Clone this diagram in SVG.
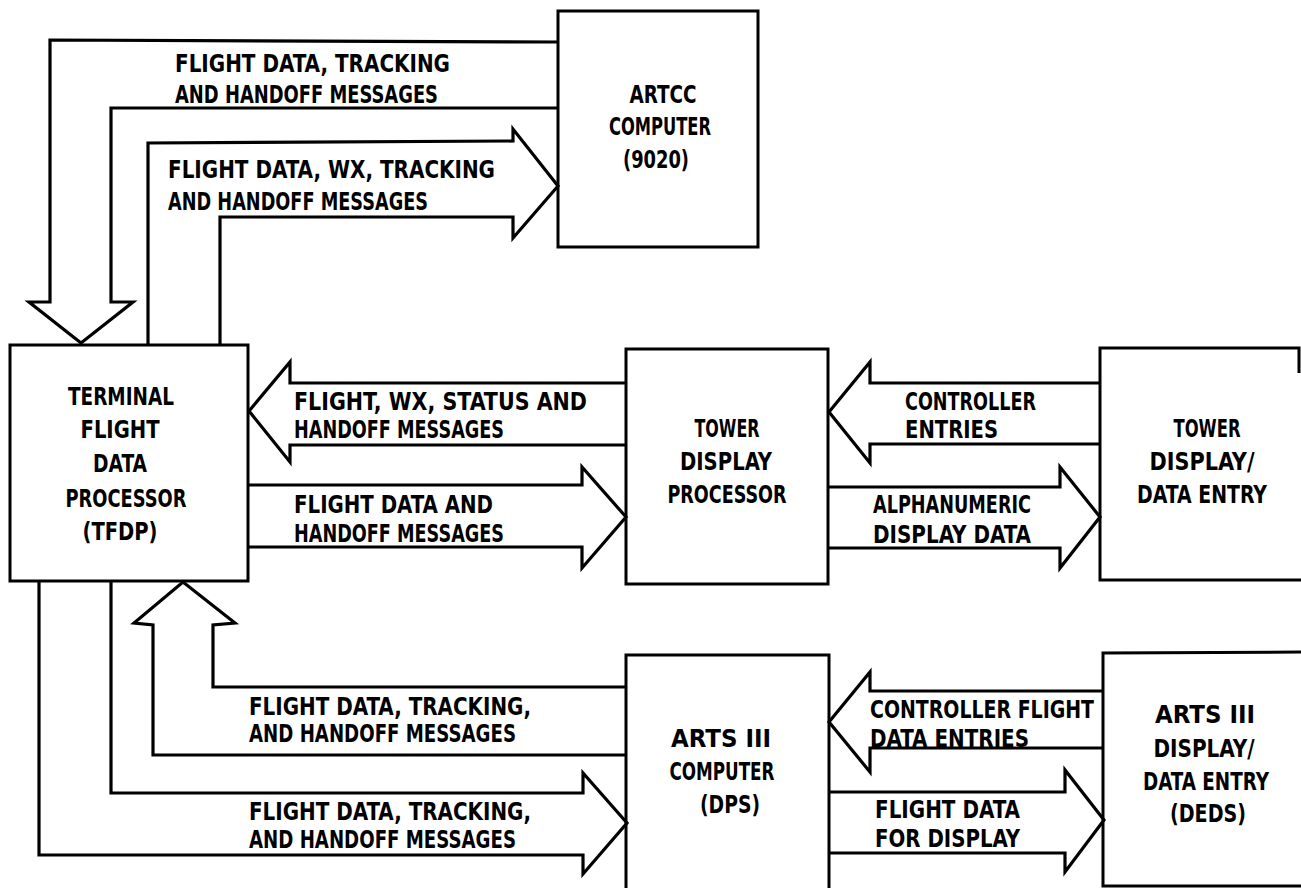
<svg xmlns="http://www.w3.org/2000/svg" width="1301" height="888" viewBox="0 0 1301 888">
<style>
.bx{fill:none;stroke:#000;stroke-width:3;stroke-linejoin:miter}
.ar{fill:none;stroke:#000;stroke-width:3.2;stroke-linejoin:miter}
text{font-family:"DejaVu Sans Condensed","DejaVu Sans",sans-serif;font-weight:bold;font-size:25px;fill:#000}
.c{text-anchor:middle}
</style>
<rect width="1301" height="888" fill="#fff"/>
<g id="artcc">
<rect class="bx" x="558" y="11" width="200" height="236"/>
<text class="c" x="663" y="103" textLength="67" lengthAdjust="spacingAndGlyphs">ARTCC</text>
<text class="c" x="660" y="135" textLength="102" lengthAdjust="spacingAndGlyphs">COMPUTER</text>
<text class="c" x="656" y="168" textLength="66" lengthAdjust="spacingAndGlyphs">(9020)</text>
</g>
<g id="tfdp">
<rect class="bx" x="10" y="345" width="238" height="236"/>
<text class="c" x="121" y="405" textLength="106" lengthAdjust="spacingAndGlyphs">TERMINAL</text>
<text class="c" x="120" y="438" textLength="79" lengthAdjust="spacingAndGlyphs">FLIGHT</text>
<text class="c" x="120" y="472" textLength="54" lengthAdjust="spacingAndGlyphs">DATA</text>
<text class="c" x="126" y="507" textLength="121" lengthAdjust="spacingAndGlyphs">PROCESSOR</text>
<text class="c" x="120" y="540" textLength="75" lengthAdjust="spacingAndGlyphs">(TFDP)</text>
</g>
<g id="tdp">
<rect class="bx" x="626" y="349" width="202" height="235"/>
<text class="c" x="727" y="437" textLength="65" lengthAdjust="spacingAndGlyphs">TOWER</text>
<text class="c" x="726" y="470" textLength="92" lengthAdjust="spacingAndGlyphs">DISPLAY</text>
<text class="c" x="727" y="503" textLength="119" lengthAdjust="spacingAndGlyphs">PROCESSOR</text>
</g>
<g id="tdde">
<path class="bx" d="M1299,373 L1299,348 L1100,348 L1100,580 L1301,580"/>
<text class="c" x="1207" y="437" textLength="67" lengthAdjust="spacingAndGlyphs">TOWER</text>
<text class="c" x="1202" y="470" textLength="105" lengthAdjust="spacingAndGlyphs">DISPLAY/</text>
<text class="c" x="1202" y="503" textLength="130" lengthAdjust="spacingAndGlyphs">DATA ENTRY</text>
</g>
<g id="arts">
<path class="bx" d="M626,890 L626,655 L829,655 L829,890"/>
<text class="c" x="721" y="747" textLength="100" lengthAdjust="spacingAndGlyphs">ARTS III</text>
<text class="c" x="722" y="780" textLength="105" lengthAdjust="spacingAndGlyphs">COMPUTER</text>
<text class="c" x="730" y="813" textLength="60" lengthAdjust="spacingAndGlyphs">(DPS)</text>
</g>
<g id="deds">
<path class="bx" d="M1301,652 L1103,653 L1103,886 L1301,886"/>
<text class="c" x="1205" y="723" textLength="100" lengthAdjust="spacingAndGlyphs">ARTS III</text>
<text class="c" x="1204" y="757" textLength="101" lengthAdjust="spacingAndGlyphs">DISPLAY/</text>
<text class="c" x="1206" y="790" textLength="126" lengthAdjust="spacingAndGlyphs">DATA ENTRY</text>
<text class="c" x="1208" y="822" textLength="76" lengthAdjust="spacingAndGlyphs">(DEDS)</text>
</g>
<g id="connectors">
<g id="c-artcc-tfdp">
<path class="ar" d="M558,42 L50,40 L50,302 L29,302 L81,343 L133,302 L111,302 L111,108 L558,108"/>
<text x="175" y="72" textLength="275" lengthAdjust="spacingAndGlyphs">FLIGHT DATA, TRACKING</text>
<text x="175" y="103" textLength="263" lengthAdjust="spacingAndGlyphs">AND HANDOFF MESSAGES</text>
</g>
<g id="c-tfdp-artcc">
<path class="ar" d="M148,345 L148,143 L513,141 L513,129 L558,186 L513,238 L513,217 L220,217 L220,345"/>
<text x="168" y="178" textLength="327" lengthAdjust="spacingAndGlyphs">FLIGHT DATA, WX, TRACKING</text>
<text x="168" y="210" textLength="260" lengthAdjust="spacingAndGlyphs">AND HANDOFF MESSAGES</text>
</g>
<g id="c-tdp-tfdp">
<path class="ar" d="M626,383 L290,383 L290,362 L249,411 L290,462 L290,445 L626,445"/>
<text x="294" y="410" textLength="293" lengthAdjust="spacingAndGlyphs">FLIGHT, WX, STATUS AND</text>
<text x="294" y="438" textLength="210" lengthAdjust="spacingAndGlyphs">HANDOFF MESSAGES</text>
</g>
<g id="c-tfdp-tdp">
<path class="ar" d="M249,485 L582,485 L582,467 L626,517 L582,568 L582,547 L249,547"/>
<text x="294" y="513" textLength="199" lengthAdjust="spacingAndGlyphs">FLIGHT DATA AND</text>
<text x="294" y="542" textLength="210" lengthAdjust="spacingAndGlyphs">HANDOFF MESSAGES</text>
</g>
<g id="c-tdde-tdp">
<path class="ar" d="M1100,383 L870,383 L870,362 L829,412 L870,463 L870,444 L1100,444"/>
<text x="905" y="410" textLength="131" lengthAdjust="spacingAndGlyphs">CONTROLLER</text>
<text x="905" y="438" textLength="93" lengthAdjust="spacingAndGlyphs">ENTRIES</text>
</g>
<g id="c-tdp-tdde">
<path class="ar" d="M829,487 L1060,487 L1060,467 L1100,517 L1060,568 L1060,548 L829,548"/>
<text x="873" y="513" textLength="158" lengthAdjust="spacingAndGlyphs">ALPHANUMERIC</text>
<text x="873" y="543" textLength="158" lengthAdjust="spacingAndGlyphs">DISPLAY DATA</text>
</g>
<g id="c-arts-tfdp">
<path class="ar" d="M626,755 L153,755 L153,625 L134,623 L183,582 L235,623 L213,625 L213,687 L626,687"/>
<text x="249" y="715" textLength="282" lengthAdjust="spacingAndGlyphs">FLIGHT DATA, TRACKING,</text>
<text x="249" y="742" textLength="267" lengthAdjust="spacingAndGlyphs">AND HANDOFF MESSAGES</text>
</g>
<g id="c-tfdp-arts">
<path class="ar" d="M39,581 L39,855 L583,855 L583,874 L627,823 L583,773 L583,793 L111,793 L111,581"/>
<text x="249" y="820" textLength="282" lengthAdjust="spacingAndGlyphs">FLIGHT DATA, TRACKING,</text>
<text x="249" y="848" textLength="267" lengthAdjust="spacingAndGlyphs">AND HANDOFF MESSAGES</text>
</g>
<g id="c-deds-arts">
<path class="ar" d="M1103,691 L870,691 L870,672 L829,722 L870,772 L870,748 L1103,748"/>
<text x="870" y="718" textLength="224" lengthAdjust="spacingAndGlyphs">CONTROLLER FLIGHT</text>
<text x="870" y="747" textLength="159" lengthAdjust="spacingAndGlyphs">DATA ENTRIES</text>
</g>
<g id="c-arts-deds">
<path class="ar" d="M829,792 L1065,792 L1065,770 L1104,820 L1065,872 L1065,853 L829,853"/>
<text x="875" y="818" textLength="145" lengthAdjust="spacingAndGlyphs">FLIGHT DATA</text>
<text x="875" y="847" textLength="145" lengthAdjust="spacingAndGlyphs">FOR DISPLAY</text>
</g>
</g>
</svg>
